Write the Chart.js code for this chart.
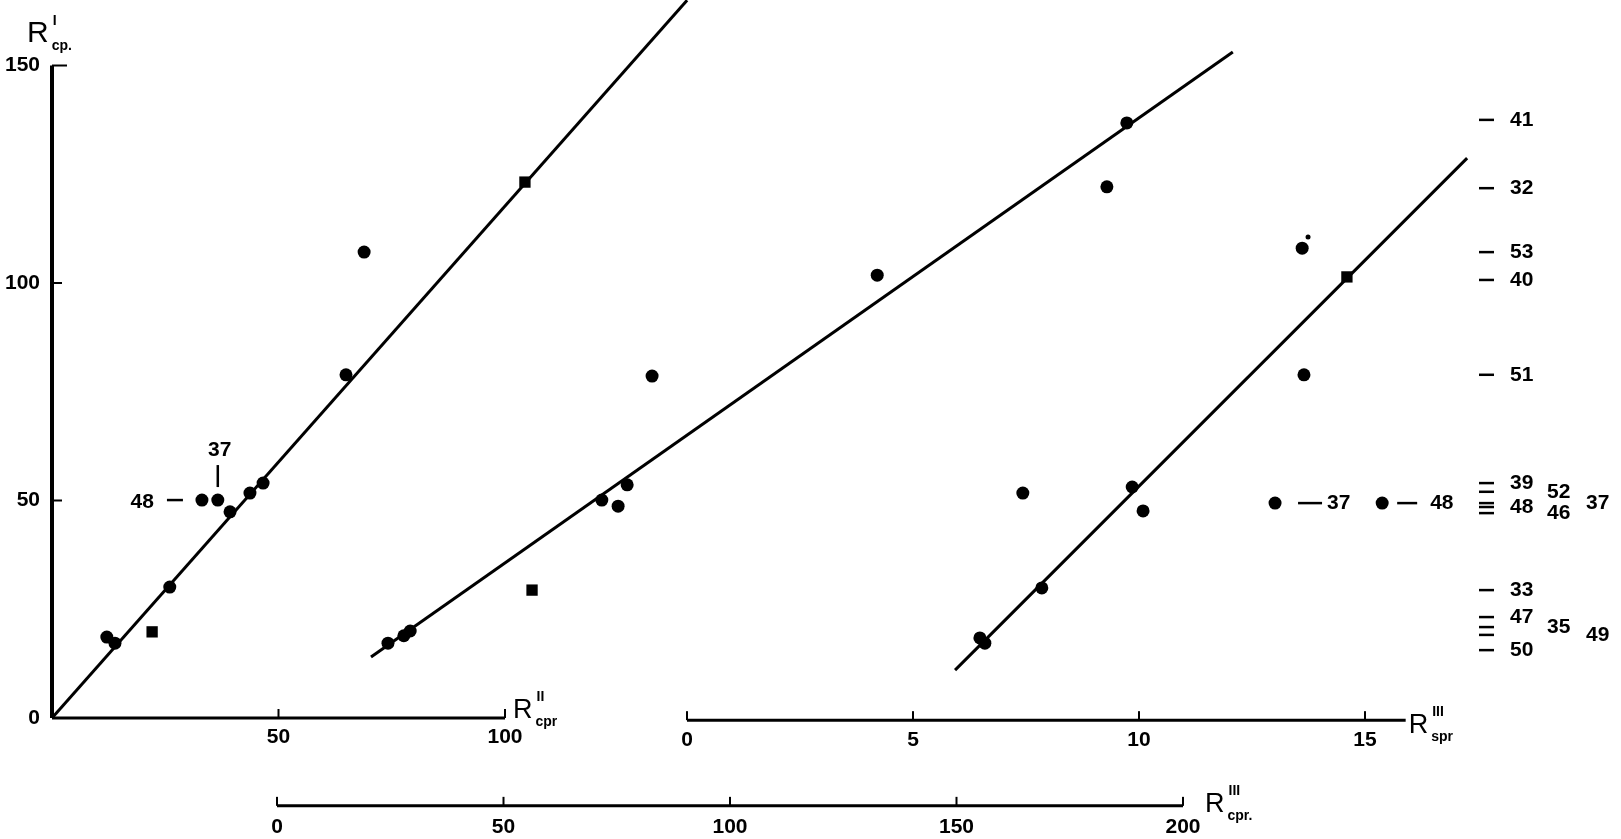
<!DOCTYPE html>
<html>
<head>
<meta charset="utf-8">
<script src="https://cdn.jsdelivr.net/npm/chart.js@4/dist/chart.umd.min.js"></script>
<style>
    html, body { margin: 0; padding: 0; background: #fff; }
    #wrap { width: 1621px; height: 839px; }
</style>
</head>
<body>
<div id="wrap"><canvas id="regression"></canvas></div>
<script>
// left group: R'' cpr (x) against R' cp (y)
const cprIIX = [12.1, 13.9, 22.1, 26.0, 33.1, 36.6, 39.3, 43.7, 46.6, 64.9, 68.9, 104.4];
const cprIIY = [18.6, 17.2, 19.8, 30.1, 50.1, 50.1, 47.4, 51.7, 54.0, 78.9, 107.1, 123.2];
// middle group: R''' cpr (x) against R' cp (y)
const cprIIIX = [24.5, 28.0, 29.4, 56.3, 71.7, 75.3, 77.3, 82.8, 132.5, 183.2, 187.6];
const cprIIIY = [17.2, 18.9, 20.0, 29.4, 50.1, 48.7, 53.6, 78.6, 101.8, 122.1, 136.8];
// right group: R''' spr (x) against R' cp (y)
const sprX = [6.48, 6.59, 7.43, 7.85, 9.85, 10.09, 13.01, 15.38, 13.61, 13.74, 13.65, 14.60];
const sprY = [18.4, 17.2, 51.7, 29.9, 53.1, 47.6, 49.4, 49.4, 108.0, 110.6, 78.9, 101.4];

// fitted lines, two end points each
const fitIIX = [0, 140.2];
const fitIIY = [0, 165];
const fitIIIX = [20.75, 211.0];
const fitIIIY = [14.0, 153.1];
const fitSprX = [5.93, 17.26];
const fitSprY = [11.0, 128.7];

// sample numbers listed at the right, at their R' level
const sampleNo = ['41', '32', '53', '40', '51', '39', '52', '48', '46', '37', '33', '47', '35', '49', '50'];
const sampleR = [137.5, 121.8, 107.1, 100.7, 78.9, 54.0, 52.0, 48.5, 47.1, 49.4, 29.4, 23.2, 20.9, 19.1, 15.6];

// tick labels
const yTicks = [0, 50, 100, 150];
const x1Ticks = [50, 100];
const x2Ticks = [0, 5, 10, 15];
const x3Ticks = [0, 50, 100, 150, 200];

window.onload = () => {

    const ink = '#000';
    const face = '"Liberation Sans", Arial, sans-serif';
    const tickFont = { family: face, size: 21, weight: 'bold' };

    // where the numbers of the right column sit (0, 1, 2 = first, second, third column)
    const sampleCol = [0, 0, 0, 0, 0, 0, 1, 0, 1, 2, 0, 0, 1, 2, 0];
    const colLeft = [1510, 1547, 1586];

    const pts = (xs, ys) => xs.map((x, i) => ({ x: x, y: ys[i] }));
    const fixTicks = (list) => (scale) => { scale.ticks = list.map(v => ({ value: v })); };

    const axisOpts = (list, extra, pad) => Object.assign({
        type: 'linear',
        afterBuildTicks: fixTicks(list),
        grid: { display: false, drawTicks: false },
        border: { display: false },
        ticks: { color: ink, font: tickFont, autoSkip: false, maxRotation: 0, padding: pad || 7 },
    }, extra);

    const mark = (ctx, x1, y1, x2, y2, w) => {
        ctx.beginPath();
        ctx.lineWidth = w || 3;
        ctx.moveTo(x1, y1);
        ctx.lineTo(x2, y2);
        ctx.stroke();
    };

    const title = (ctx, x, base, sup, sub, size) => {
        ctx.textAlign = 'left';
        ctx.textBaseline = 'alphabetic';
        ctx.font = (size || 27) + 'px ' + face;
        ctx.fillText('R', x, base);
        let w = ctx.measureText('R').width;
        ctx.font = 'bold 14px ' + face;
        ctx.fillText(sup, x + w + 4, base - 17);
        ctx.fillText(sub, x + w + 3, base + 8);
    };

    const drawing = {
        id: 'drawing',
        afterDatasetsDraw(chart) {
            const ctx = chart.ctx;
            const { y, x1, x2, x3 } = chart.scales;
            ctx.save();
            ctx.strokeStyle = ink;
            ctx.fillStyle = ink;

            // y axis with inward ticks
            const yx = x1.getPixelForValue(0);
            mark(ctx, yx, y.getPixelForValue(0), yx, y.getPixelForValue(150), 4);
            yTicks.slice(1).forEach(v => {
                const len = v === 150 ? 15 : 10;
                mark(ctx, yx, y.getPixelForValue(v), yx + len, y.getPixelForValue(v), 2);
            });

            // the three horizontal axes, as segments with upward ticks
            const hAxis = (sc, at, from, to, ticks) => {
                const py = y.getPixelForValue(at);
                mark(ctx, sc.getPixelForValue(from), py, sc.getPixelForValue(to), py, 3);
                ticks.forEach(v => mark(ctx, sc.getPixelForValue(v), py, sc.getPixelForValue(v), py - 9, 2));
            };
            hAxis(x1, 0, 0, 100, [0, 50, 100]);
            hAxis(x2, -0.5, 0, 15.9, x2Ticks);
            hAxis(x3, -20.2, 0, 200, x3Ticks);

            // axis titles
            title(ctx, x1.getPixelForValue(100) + 8, y.getPixelForValue(0), 'II', 'cpr');
            title(ctx, x2.getPixelForValue(15.9) + 3, y.getPixelForValue(-3.5), 'III', 'spr');
            title(ctx, x3.getPixelForValue(200) + 22, y.getPixelForValue(-21.7), 'III', 'cpr.');
            title(ctx, 27, 42, 'I', 'cp.', 30);

            // labels next to single points
            ctx.font = 'bold 21px ' + face;
            ctx.textBaseline = 'middle';
            let px = x1.getPixelForValue(cprIIX[5]);
            let py = y.getPixelForValue(cprIIY[5]);
            mark(ctx, px, py - 35, px, py - 13, 2.5);
            ctx.textAlign = 'center';
            ctx.fillText('37', px + 2, py - 50);
            px = x1.getPixelForValue(cprIIX[4]);
            py = y.getPixelForValue(cprIIY[4]);
            mark(ctx, px - 35, py, px - 19, py, 2.5);
            ctx.textAlign = 'right';
            ctx.fillText('48', px - 48, py + 2);

            ctx.textAlign = 'left';
            px = x2.getPixelForValue(sprX[6]);
            py = y.getPixelForValue(sprY[6]);
            mark(ctx, px + 23, py, px + 47, py, 2.5);
            ctx.fillText('37', px + 52, py);
            px = x2.getPixelForValue(sprX[7]);
            py = y.getPixelForValue(sprY[7]);
            mark(ctx, px + 15, py, px + 35, py, 2.5);
            ctx.fillText('48', px + 48, py);

            // sample numbers in the right margin
            ctx.font = 'bold 21px ' + face;
            sampleNo.forEach((s, i) => {
                const ry = y.getPixelForValue(sampleR[i]);
                mark(ctx, 1479, ry, 1494, ry, 2.5);
                ctx.fillText(s, colLeft[sampleCol[i]], ry);
            });
            ctx.restore();
        }
    };

    const dots = (xs, ys, axis, rects, small) => ({
        type: 'scatter',
        data: pts(xs, ys),
        xAxisID: axis,
        yAxisID: 'y',
        backgroundColor: ink,
        borderColor: ink,
        borderWidth: 0,
        pointStyle: xs.map((v, i) => rects.includes(i) ? 'rect' : 'circle'),
        pointRadius: xs.map((v, i) => i === small ? 2.5 : (rects.includes(i) ? 8 : 6.5)),
    });

    const fit = (xs, ys, axis) => ({
        type: 'line',
        data: pts(xs, ys),
        xAxisID: axis,
        yAxisID: 'y',
        borderColor: ink,
        borderWidth: 3,
        pointRadius: 0,
        fill: false,
    });

    let regressionCanvas = document.getElementById('regression');
    let regression = new Chart(regressionCanvas, {
        type: 'scatter',
        data: {
            datasets: [
                fit(fitIIX, fitIIY, 'x1'),
                fit(fitIIIX, fitIIIY, 'x3'),
                fit(fitSprX, fitSprY, 'x2'),
                dots(cprIIX, cprIIY, 'x1', [2, 11], -1),
                dots(cprIIIX, cprIIIY, 'x3', [3], -1),
                dots(sprX, sprY, 'x2', [11], 9),
            ],
        },
        options: {
            responsive: true,
            maintainAspectRatio: false,
            animation: false,
            layout: { padding: 0, autoPadding: false },
            plugins: { legend: { display: false }, tooltip: { enabled: false } },
            scales: {
                y: axisOpts(yTicks, {
                    position: 'left',
                    min: -27.82,
                    max: 165.06,
                    afterFit: (scale) => {
                        scale.width = 52;
                        scale.paddingTop = 0;
                        scale.paddingBottom = 0;
                    },
                    ticks: { color: ink, font: tickFont, padding: 12 },
                }),
                x1: axisOpts(x1Ticks, { position: { y: 0 }, min: 0, max: 346.36 }, 7),
                x2: axisOpts(x2Ticks, { position: { y: -0.5 }, min: -14.049, max: 20.664 }, 7),
                x3: axisOpts(x3Ticks, { position: { y: -20.2 }, min: -49.67, max: 296.69 }, 9),
            },
        },
        plugins: [drawing],
    });
}
</script>
</body>
</html>
